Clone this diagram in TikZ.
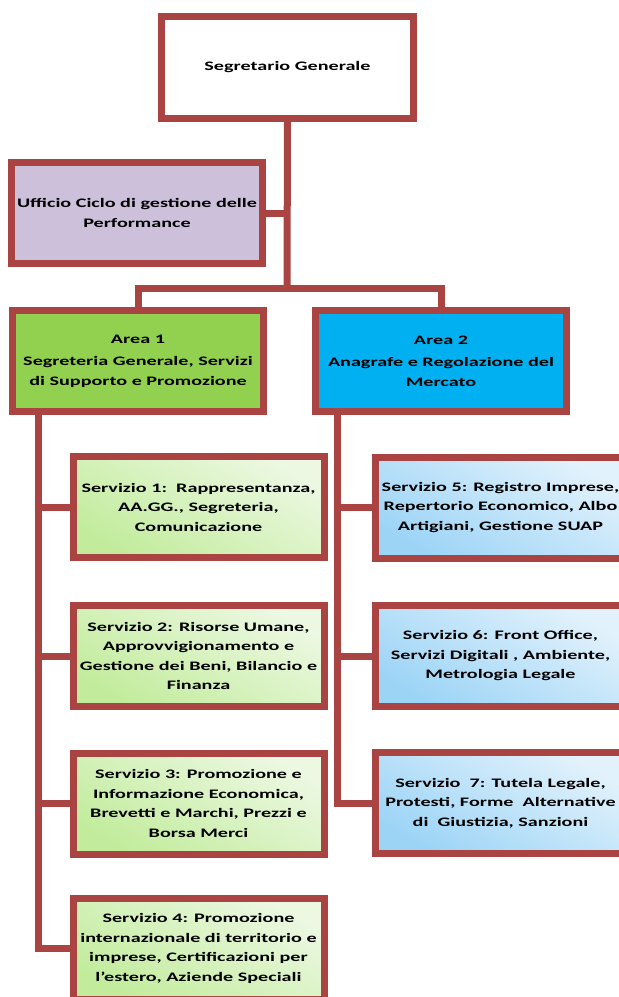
\documentclass[tikz,border=0pt]{standalone}
\usepackage{fontspec}
\setmainfont{Carlito}[FakeStretch=1.55]
\usetikzlibrary{positioning}

\definecolor{brd}{RGB}{170,68,66}
\definecolor{lav}{RGB}{204,192,218}
\definecolor{grn}{RGB}{146,208,80}
\definecolor{cya}{RGB}{0,176,240}
\definecolor{gtop}{RGB}{236,248,226}
\definecolor{gbot}{RGB}{194,236,156}
\definecolor{btop}{RGB}{226,242,252}
\definecolor{bbot}{RGB}{156,212,246}

\begin{document}
\begin{tikzpicture}[x=1pt, y=-1pt, line width=7pt, brd,
		box/.style={draw=brd, line width=7pt, inner sep=0pt, text=black, align=center,
			minimum width=251pt, minimum height=101pt, font=\bfseries\fontsize{13}{19.5}\selectfont},
		srvg/.style={box, top color=gtop, bottom color=gbot, shading angle=-30},
		srvb/.style={box, top color=btop, bottom color=bbot, shading angle=-30}]
		\clip (0, 0) rectangle (619, 997);

		\node[box, fill=white, minimum width=252pt, minimum height=102pt]	(sg) at (287.5, 67.5) {Segretario Generale};
		\node[box, fill=lav]	(uff) at (137, 213) {Ufficio Ciclo di gestione delle\\Performance};
		\node[box, fill=grn]	(a1) at (138, 361) {Area 1\\[3pt]Segreteria Generale, Servizi\\di Supporto e Promozione};
		\node[box, fill=cya]	(a2) at (441, 361) {Area 2\\[3pt]Anagrafe e Regolazione del\\Mercato};

		\node[srvg]	(s1) at (198.5, 507) {Servizio 1:\ \ Rappresentanza,\\AA.GG., Segreteria,\\Comunicazione};
		\node[srvg]	(s2) at (198.5, 656) {Servizio 2: Risorse Umane,\\Approvvigionamento e\\Gestione dei Beni, Bilancio e\\Finanza};
		\node[srvg]	(s3) at (198.5, 803.5) {Servizio 3: Promozione e\\Informazione Economica,\\Brevetti e Marchi, Prezzi e\\Borsa Merci};
		\node[srvg]	(s4) at (198.5, 948.5) {Servizio 4: Promozione\\internazionale di territorio e\\imprese, Certificazioni per\\l'estero, Aziende Speciali};

		\node[srvb]	(s5) at (500.5, 507.5) {Servizio 5: Registro Imprese,\\Repertorio Economico, Albo\\Artigiani, Gestione SUAP};
		\node[srvb]	(s6) at (500.5, 656) {Servizio 6: Front Office,\\Servizi Digitali , Ambiente,\\Metrologia Legale};
		\node[srvb]	(s7) at (500.5, 803) {Servizio\ \ 7: Tutela Legale,\\Protesti, Forme\ \ Alternative\\di\ \ Giustizia, Sanzioni};

		% connectors
		\coordinate (bus) at (287, 288);
		\coordinate (l1) at (38, 411);
		\coordinate (l2) at (337, 411);
		\draw (sg.south) -- (bus);
		\draw (uff.east) -- (uff.east -| bus);
		\draw (a1.north) |- (bus) -| (a2.north);
		\draw (l1) |- (s4.west);
		\foreach \n in {s1, s2, s3}
			\draw (l1 |- \n.west) -- (\n.west);
		\draw (l2) |- (s7.west);
		\foreach \n in {s5, s6}
			\draw (l2 |- \n.west) -- (\n.west);
	\end{tikzpicture}
\end{document}
